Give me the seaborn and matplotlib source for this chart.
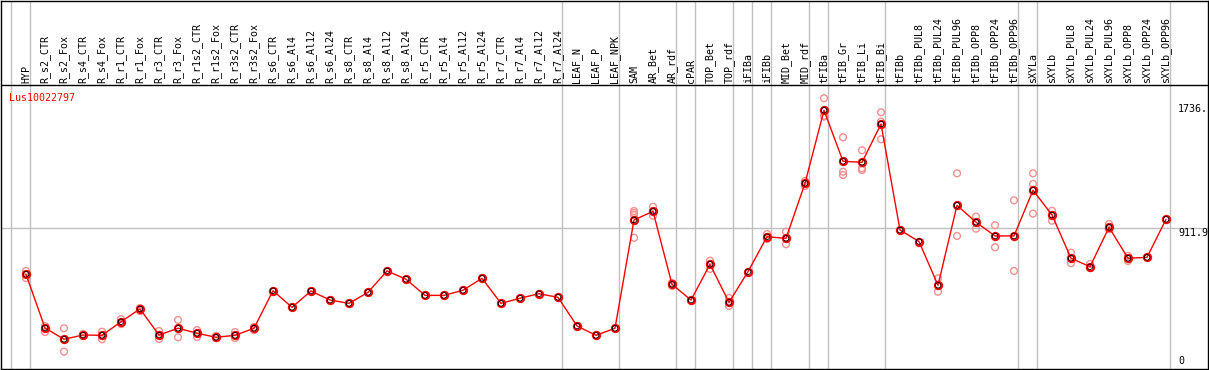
import matplotlib
matplotlib.use("Agg")
import matplotlib.pyplot as plt
import numpy as np
import pandas as pd
import seaborn as sns

# ---------------- data ----------------
categories = [
    "HYP", "R_s2_CTR", "R_s2_Fox", "R_s4_CTR", "R_s4_Fox", "R_r1_CTR", "R_r1_Fox",
    "R_r3_CTR", "R_r3_Fox", "R_r1s2_CTR", "R_r1s2_Fox", "R_r3s2_CTR", "R_r3s2_Fox",
    "R_s6_CTR", "R_s6_Al4", "R_s6_Al12", "R_s6_Al24", "R_s8_CTR", "R_s8_Al4",
    "R_s8_Al12", "R_s8_Al24", "R_r5_CTR", "R_r5_Al4", "R_r5_Al12", "R_r5_Al24",
    "R_r7_CTR", "R_r7_Al4", "R_r7_Al12", "R_r7_Al24", "LEAF_N", "LEAF_P", "LEAF_NPK",
    "SAM", "AR_Bet", "AR_rdf", "cPAR", "TOP_Bet", "TOP_rdf", "iFIBa", "iFIBb",
    "MID_Bet", "MID_rdf", "tFIBa", "tFIB_Gr", "tFIB_Li", "tFIB_Bi", "tFIBb",
    "tFIBb_PUL8", "tFIBb_PUL24", "tFIBb_PUL96", "tFIBb_OPP8", "tFIBb_OPP24",
    "tFIBb_OPP96", "sXYLa", "sXYLb", "sXYLb_PUL8", "sXYLb_PUL24", "sXYLb_PUL96",
    "sXYLb_OPP8", "sXYLb_OPP24", "sXYLb_OPP96",
]

means = [
    605, 249, 174, 202, 200, 290, 375, 202, 247, 214, 187, 200, 247,
    496, 386, 494, 434, 412, 485, 627, 572, 465, 465, 499, 578,
    412, 446, 476, 452, 262, 200, 247,
    965, 1022, 538, 434, 671, 419, 622, 854, 843, 1208,
    1692, 1354, 1347, 1601, 898,
    822, 532, 1062, 950, 859, 859,
    1162, 998, 711, 655, 916, 711, 717, 969,
]

replicates = [
    [627, 580], [262, 222], [247, 92], [209, 196], [224, 174], [308, 275], [381, 361],
    [229, 176], [302, 187], [235, 189], [196, 182], [222, 182], [255, 235],
    [], [], [], [], [], [], [], [], [], [], [], [],
    [], [], [], [], [], [], [],
    [1024, 1011, 998, 847], [1053, 993], [547, 527], [], [695, 640], [448, 395],
    [], [872, 839], [887, 804], [1223, 1190],
    [1772, 1650, 1655], [1513, 1285, 1263], [1427, 1308, 1296], [1679, 1617, 1500], [],
    [], [578, 489], [1274, 859], [987, 907], [930, 784], [1095, 627],
    [1274, 1204, 1007], [1026, 960], [748, 678], [673, 647], [938, 903],
    [726, 693], [], [],
]

separators_after = [-1, 0, 28, 31, 34, 35, 37, 38, 39, 41, 42, 45, 52, 53, 60]
gene_name = "Lus10022797"
ref_value = 911.9
tick_values = [1736, 911.9, 0]
tick_labels = ["1736.", "911.9", "0"]

# ---------------- frames ----------------
pos = np.arange(len(categories))
df_mean = pd.DataFrame({"pos": pos, "value": means, "cat": categories})
rep_pos, rep_val = [], []
for i, reps in enumerate(replicates):
    for v in reps:
        rep_pos.append(i)
        rep_val.append(v)
df_rep = pd.DataFrame({"pos": rep_pos, "value": rep_val})

# ---------------- figure ----------------
sns.set_theme(style="white")
plt.rcParams["font.family"] = ["DejaVu Sans Mono", "DejaVu Sans"]

W, H = 1209, 370
fig = plt.figure(figsize=(W / 100, H / 100), dpi=100)
ax = fig.add_axes([1 / W, 1 / H, 1207 / W, 368.5 / H])

# pixel mapping: x_px = 26 + 19*i ; value 0 at y_px 365.5, 6.631 units per px
ax.set_xlim(-1.316, 62.21)
ax.set_ylim(-23.2, 2420)

LBL = "#c0c0c0"
for s in separators_after:
    ax.axvline(s + 0.23, color=LBL, lw=1, zorder=0)
ax.axhline(ref_value, color=LBL, lw=1, zorder=0)
ax.axhline(1860, color="black", lw=1, zorder=1)

# replicates
sns.scatterplot(data=df_rep, x="pos", y="value", color="#f09090", s=24,
                linewidth=1, ax=ax, zorder=2, legend=False)
coll = ax.collections[-1]
coll.set_facecolor("none")
coll.set_edgecolor("#f09090")
coll.set_linewidth(1.0)

# mean line
sns.lineplot(data=df_mean, x="pos", y="value", color="red", linewidth=1,
             marker="o", markersize=5.2, markerfacecolor="none",
             markeredgecolor="red", markeredgewidth=1.5, ax=ax, zorder=3,
             legend=False)
sns.scatterplot(data=df_mean, x="pos", y="value", color="black", s=16,
                linewidth=0.6, ax=ax, zorder=4, legend=False)
coll2 = ax.collections[-1]
coll2.set_facecolor("none")
coll2.set_edgecolor("black")
coll2.set_linewidth(0.6)

# column labels (header)
for i, c in enumerate(categories):
    ax.text(i, 1873, c, rotation=90, ha="center", va="bottom",
            fontsize=7.2, color="black", family="DejaVu Sans Mono")

ax.text(-0.9, 1807, gene_name, ha="left", va="top", fontsize=7.2,
        color="red", family="DejaVu Sans Mono")

for v, lab in zip(tick_values, tick_labels):
    ax.text(60.63, v, lab, ha="left", va="bottom" if v == 0 else "top",
            fontsize=7.2, color="black", family="DejaVu Sans Mono")

ax.set_xticks([])
ax.set_yticks([])
ax.set_xlabel("")
ax.set_ylabel("")
for sp in ax.spines.values():
    sp.set_visible(True)
    sp.set_color("black")
    sp.set_linewidth(1)

fig.savefig("out.png", dpi=100)
